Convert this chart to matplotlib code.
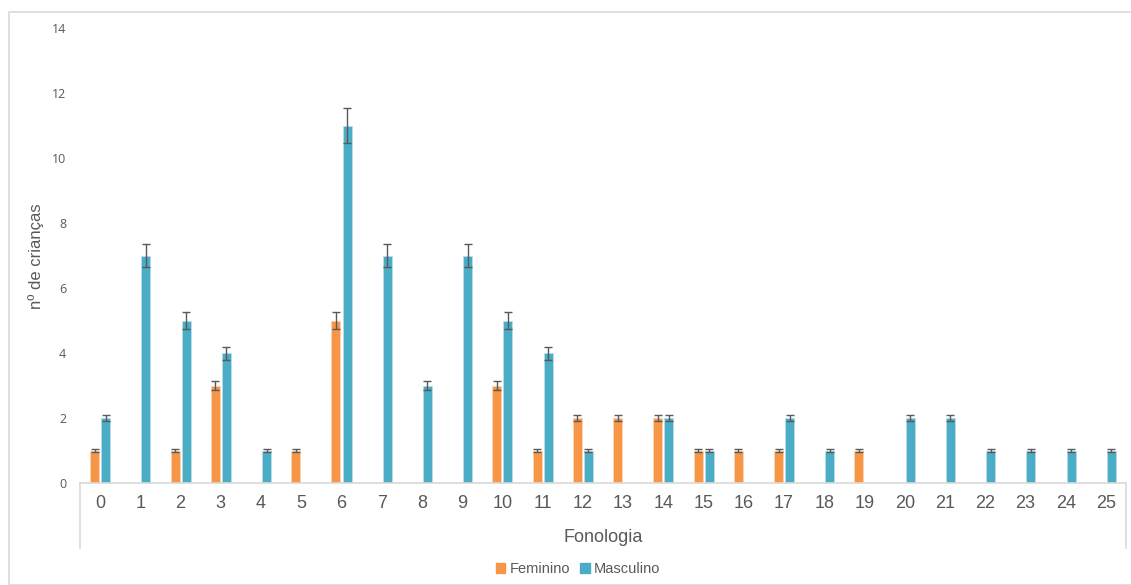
import matplotlib
matplotlib.use("Agg")
import matplotlib.pyplot as plt
import numpy as np
from matplotlib.patches import Rectangle
from matplotlib.lines import Line2D

categories = [str(i) for i in range(26)]
feminino = [1, 0, 1, 3, 0, 1, 5, 0, 0, 0, 3, 1, 2, 2, 2, 1, 1, 1, 0, 1, 0, 0, 0, 0, 0, 0]
masculino = [2, 7, 5, 4, 1, 0, 11, 7, 3, 7, 5, 4, 1, 0, 2, 1, 0, 2, 1, 0, 2, 2, 1, 1, 1, 1]
err_pct = 0.05
yticks = [0, 2, 4, 6, 8, 10, 12, 14]

c_fem = "#F79646"
c_mas = "#4BACC6"
txt = "#595959"

plt.rcParams['font.family'] = ['Liberation Sans', 'DejaVu Sans']

fig = plt.figure(figsize=(11.31, 5.85), dpi=100)
W, H = 1131, 585
L, R, T, B = 80, 1126, 28, 483
ax = fig.add_axes([L / W, (H - B) / H, (R - L) / W, (B - T) / H])

x = np.arange(len(categories))
bw = 0.224
off = 0.137
fem = np.array(feminino, dtype=float)
mas = np.array(masculino, dtype=float)

ax.bar(x - off, fem, width=bw, color=c_fem, edgecolor="#FCD5B4", linewidth=0.6, zorder=2)
ax.bar(x + off, mas, width=bw, color=c_mas, edgecolor="#B7DEE8", linewidth=0.6, zorder=2)

mf = fem > 0
mm = mas > 0
ax.errorbar(x[mf] - off, fem[mf], yerr=fem[mf] * err_pct, fmt="none",
            ecolor="#595959", elinewidth=1.0, capsize=2.6, capthick=1.0, zorder=3)
ax.errorbar(x[mm] + off, mas[mm], yerr=mas[mm] * err_pct, fmt="none",
            ecolor="#595959", elinewidth=1.0, capsize=2.6, capthick=1.0, zorder=3)

ax.set_xlim(-0.5, len(categories) - 0.5)
ax.set_ylim(0, 14)
ax.set_yticks(yticks)
ax.set_yticklabels([str(t) for t in yticks], fontsize=9, color=txt, family=['Open Sans', 'DejaVu Sans'])
ax.tick_params(axis='y', length=0, pad=10)
ax.set_xticks(x)
ax.set_xticklabels(categories, fontsize=13, color=txt)
ax.tick_params(axis='x', length=0, pad=9)

for s in ['top', 'right', 'left']:
    ax.spines[s].set_visible(False)
ax.spines['bottom'].set_color("#D9D9D9")
ax.spines['bottom'].set_linewidth(1.2)

# category box lines below axis
box_depth = (548 - B) / (B - T)
for xa in [0, 1]:
    ax.add_line(Line2D([xa, xa], [0, -box_depth], transform=ax.transAxes,
                       color="#D9D9D9", linewidth=1.2, clip_on=False))

fig.text(36 / W, 1 - 256 / H, "nº de crianças", rotation=90, ha="center", va="center",
         fontsize=12, color=txt)
fig.text((L + R) / 2 / W, 1 - 538 / H, "Fonologia", ha="center", va="center",
         fontsize=13, color=txt)

# legend
handles = [Rectangle((0, 0), 1, 1, color=c_fem), Rectangle((0, 0), 1, 1, color=c_mas)]
fig.legend(handles, ["Feminino", "Masculino"], loc="center", bbox_to_anchor=(578 / W, 1 - 569 / H),
           ncol=2, frameon=False, fontsize=10.5, handlelength=0.65, handleheight=0.65,
           handletextpad=0.3, columnspacing=0.7, labelcolor=txt)

# outer frame
fig.patches.append(Rectangle((9 / W, 0), 1.2, 1 - 12 / H, transform=fig.transFigure,
                             fill=False, edgecolor="#D9D9D9", linewidth=1.2))

fig.savefig("out.png", dpi=100)
